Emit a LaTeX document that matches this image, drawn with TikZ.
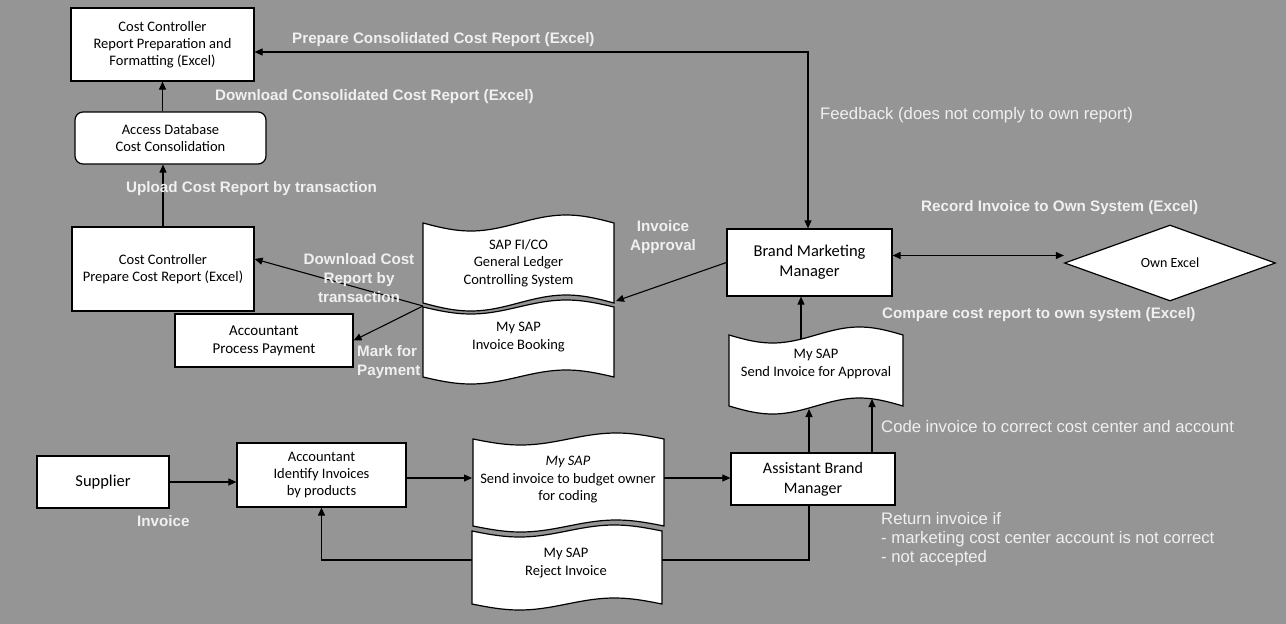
\documentclass[tikz,border=0pt]{standalone}
\usepackage{fontspec}
\setmainfont{Liberation Sans}
\newfontfamily\calibri{Carlito}
\usetikzlibrary{arrows.meta,shapes.geometric}
\definecolor{bgc}{RGB}{149,149,149}
\definecolor{lblc}{RGB}{240,240,240}
\newcommand\tape[5]{%
  \filldraw[tapest] plot[domain=0:1,samples=48] ({#1+\x*(#2-#1)},{#3+#5*sin(360*\x)})
    -- plot[domain=0:1,samples=48] ({#2-\x*(#2-#1)},{#4+#5*sin(360*(1-\x))}) -- cycle;}
\tikzset{
  box/.style={draw=black, line width=1.2pt, fill=white, align=center, inner sep=0pt,
    font={\calibri\fontsize{14.5}{17}\selectfont}},
  bigbox/.style={box, font={\calibri\fontsize{16.5}{20}\selectfont}},
  tapest/.style={draw=black, line width=1.2pt, fill=white},
  tapetext/.style={align=center, inner sep=0pt, font={\calibri\fontsize{14.5}{17.5}\selectfont}},
  conn/.style={draw=black, line width=1.1pt},
  arr/.style={conn, -{Triangle[length=8pt,width=7pt]}},
  biarr/.style={conn, {Triangle[length=8pt,width=7pt]}-{Triangle[length=8pt,width=7pt]}},
  lbl/.style={text=lblc, inner sep=0pt, font={\bfseries\fontsize{15.2}{19}\selectfont}},
  lblr/.style={text=lblc, inner sep=0pt, font={\fontsize{16.7}{19}\selectfont}},
}
\begin{document}
\begin{tikzpicture}[x=1pt,y=-1pt]
\useasboundingbox (0,0) rectangle (1286,624);
\fill[bgc] (0,0) rectangle (1286,624);

% boxes
\node[box, minimum width=183pt, minimum height=73pt] (cc1) at (162.5,44.5) {Cost Controller\\Report Preparation and\\Formatting (Excel)};
\node[box, rounded corners=8pt, minimum width=191pt, minimum height=52pt] (adb) at (170.5,138) {Access Database\\Cost Consolidation};
\node[box, minimum width=182pt, minimum height=84pt] (cc2) at (163,269) {Cost Controller\\Prepare Cost Report (Excel)};
\node[box, minimum width=178pt, minimum height=53pt, font={\calibri\fontsize{15}{18}\selectfont}] (app) at (264,340.5) {Accountant\\Process Payment};
\node[bigbox, minimum width=165pt, minimum height=67pt] (bmm) at (809.5,262.5) {Brand Marketing\\Manager};
\node[diamond, draw=black, line width=1.2pt, fill=white, minimum width=211pt, minimum height=76pt, inner sep=0pt, font={\calibri\fontsize{14}{17}\selectfont}] (own) at (1170,263) {Own Excel};
\node[bigbox, font={\calibri\fontsize{16}{20}\selectfont}, minimum width=164pt, minimum height=52pt] (abm) at (813,479) {Assistant Brand\\Manager};
\node[bigbox, minimum width=132pt, minimum height=52pt] (sup) at (103,482) {Supplier};
\node[box, minimum width=169pt, minimum height=64pt] (aip) at (321.5,475) {Accountant\\Identify Invoices\\by products};

% return line (behind reject document)
\coordinate (ret) at (809,560);
\draw[arr] (abm.south -| ret) -- (ret) -| (aip.south);

% tape documents
\tape{423}{614}{223}{303}{8}
\node[tapetext] (sap) at (518.5,263) {SAP FI/CO\\General Ledger\\Controlling System};
\tape{423}{614}{307}{377}{7}
\node[tapetext] (ibk) at (518.5,337) {My SAP\\Invoice Booking};
\tape{729}{903}{335}{406}{8}
\node[tapetext] (apr) at (816,364) {My SAP\\Send Invoice for Approval};
\tape{473}{664}{439}{526}{6}
\node[tapetext] (bud) at (568,480) {\textit{My SAP}\\Send invoice to budget owner\\for coding};
\tape{472}{662}{531}{604}{6}
\node[tapetext] (rej) at (566,563) {My SAP\\Reject Invoice};

% connection points
\coordinate (sapR) at (616,301);
\coordinate (sapL) at (423,306);
\coordinate (bgW) at (472,478);
\coordinate (bgE) at (664,478);
\coordinate (apS1) at (809,409);
\coordinate (apS2) at (872,399);
\coordinate (apN) at (801,339);
\coordinate (fbk) at (808,52);

% connectors
\draw[biarr] (cc1.east |- fbk) -- (fbk) -- (fbk |- bmm.north);
\draw[arr] (cc1.south |- adb.north) -- (cc1.south);
\draw[arr] (cc2.north) -- (cc2.north |- adb.south);
\draw[arr] (sapL) -- ([yshift=10pt]cc2.east);
\draw[arr] (sapL) -- (app.east);
\draw[arr] (bmm.west) -- (sapR);
\draw[biarr] ([yshift=7pt]bmm.east) -- ([yshift=7pt]bmm.east -| own.west);
\draw[arr] (apN) -- (apN |- bmm.south);
\draw[arr] (abm.north -| apS1) -- (apS1);
\draw[arr] (abm.north -| apS2) -- (apS2);
\draw[arr] (sup.east) -- (sup.east -| aip.west);
\draw[arr] (aip.east |- bgW) -- (bgW);
\draw[arr] (bgE) -- (bgE -| abm.west);

% labels
\node[lbl, anchor=west] (l1) at (292,40) {Prepare Consolidated Cost Report (Excel)};
\node[lbl, anchor=west] (l2) at (215,97) {Download Consolidated Cost Report (Excel)};
\node[lbl, anchor=west] (l3) at (126,189) {Upload Cost Report by transaction};
\node[lblr, anchor=west] (l4) at (820,115) {Feedback (does not comply to own report)};
\node[lbl, anchor=west] (l5) at (921,208) {Record Invoice to Own System (Excel)};
\node[lbl, anchor=west] (l6) at (882,315) {Compare cost report to own system (Excel)};
\node[lbl, align=center] (l7) at (663,237) {Invoice\\Approval};
\node[lbl, align=center] (l8) at (359,278) {Download Cost\\Report by\\transaction};
\node[lbl, align=left, anchor=west] (l9) at (357,362) {Mark for\\Payment};
\node[lbl, anchor=west] (l10) at (137,521) {Invoice};
\node[lblr, anchor=west] (l11) at (881,427) {Code invoice to correct cost center and account};
\node[lblr, align=left, anchor=west] (l12) at (881,539) {Return invoice if\\- marketing cost center account is not correct\\- not accepted};
\end{tikzpicture}
\end{document}
